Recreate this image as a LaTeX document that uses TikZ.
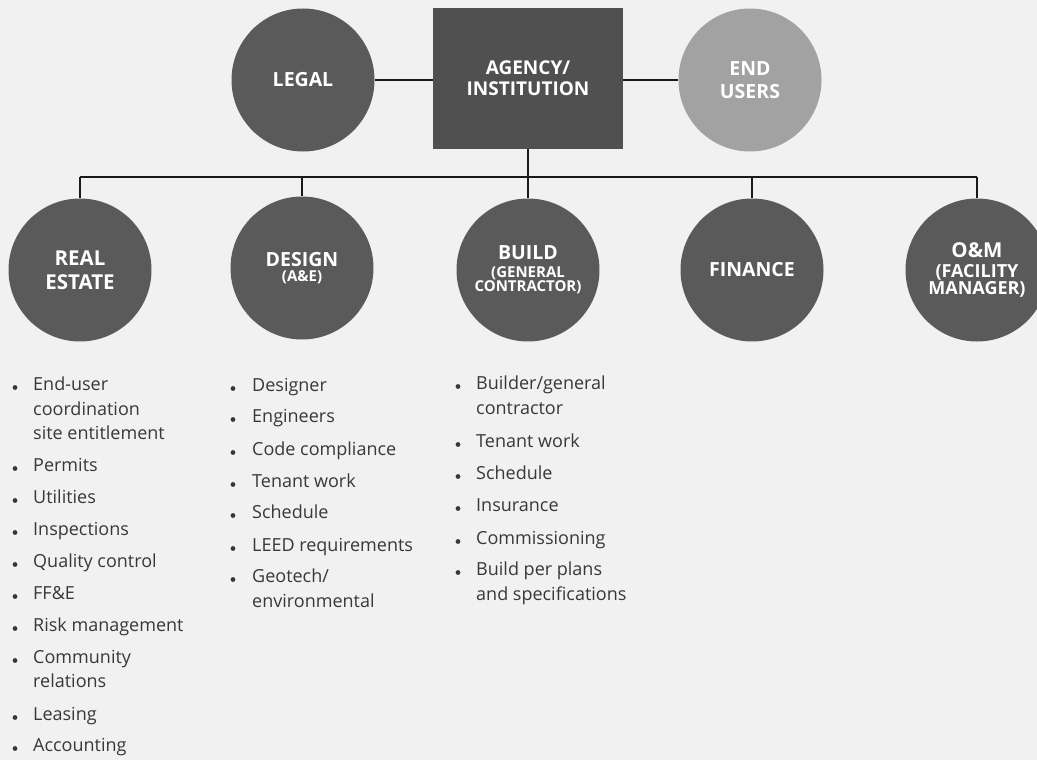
\documentclass[tikz,border=0pt]{standalone}
\usepackage{fontspec}
\setmainfont{Open Sans}
\definecolor{bg}{HTML}{F1F1F1}
\definecolor{dk}{HTML}{5A5A5A}
\definecolor{bx}{HTML}{505050}
\definecolor{lt}{HTML}{A2A2A2}
\definecolor{txt}{HTML}{383838}
\tikzset{
  orgc/.style={circle, fill=dk, minimum size=143pt, inner sep=0pt, text=white, align=center,
    font=\bfseries\fontsize{19.5}{23}\selectfont},
  orgbox/.style={rectangle, fill=bx, minimum width=190pt, minimum height=141pt, inner sep=0pt,
    text=white, align=center, font=\bfseries\fontsize{19}{21}\selectfont},
  conn/.style={draw=black!90, line width=1.3pt},
  item/.style={anchor=mid west, inner sep=0pt, text=txt, yshift=-1.5pt, font=\fontsize{18}{20}\selectfont},
  bulletdot/.style={circle, fill=txt, minimum size=4.8pt, inner sep=0pt, yshift=-1.5pt}
}
\begin{document}
\begin{tikzpicture}[x=1pt,y=-1pt]
\fill[bg] (0,0) rectangle (1037,760);
\useasboundingbox (0,0) rectangle (1037,760);

% top row
\node[orgc] (legal) at (303,80) {LEGAL};
\node[orgbox] (agency) at (528,78.5) {AGENCY/\\INSTITUTION};
\node[orgc, fill=lt] (users) at (750,80) {END\\USERS};

% bottom row
\node[orgc, font=\bfseries\fontsize{20.5}{24}\selectfont] (re) at (80,270) {REAL\\ESTATE};
\node[orgc] (design) at (302,268) {DESIGN\\[-7.5pt]{\fontsize{15}{16}\selectfont (A\&E)}};
\node[orgc] (build) at (528,270) {BUILD\\[-4.7pt]{\fontsize{15}{17}\selectfont (GENERAL}\\[-9pt]{\fontsize{15}{17}\selectfont CONTRACTOR)}};
\node[orgc] (fin) at (752,270) {FINANCE};
\node[orgc, font=\bfseries\fontsize{20.5}{23}\selectfont] (om) at (977,270) {O\&M\\[-3pt]{\fontsize{18}{18}\selectfont (FACILITY}\\[-5.5pt]{\fontsize{18}{18}\selectfont MANAGER)}};

% connectors
\coordinate (busL) at (80,177);
\draw[conn] (legal.east) -- (legal.east -| agency.west);
\draw[conn] (agency.east |- users.west) -- (users.west);
\draw[conn] (agency.south) -- (agency.south |- busL);
\draw[conn] (re.north |- busL) -- (om.north |- busL);
\foreach \n in {re,design,build,fin,om}
  \draw[conn] (\n.north |- busL) -- (\n.north);

% column 1
\foreach \yy/\tt [count=\i] in {386/End-user, 411/coordination, 435/site entitlement,
  467/Permits, 499/Utilities, 531/Inspections, 563/Quality control, 595/FF\&E,
  627/Risk management, 659/Community, 683/relations, 716/Leasing, 747/Accounting}
  \node[item] (a\i) at (33,\yy) {\tt};
\foreach \yy [count=\i] in {386,467,499,531,563,595,627,659,716,747}
  \node[bulletdot] (ab\i) at (15,\yy) {};

% column 2
\foreach \yy/\tt [count=\i] in {387/Designer, 418/Engineers, 451/Code compliance,
  483/Tenant work, 514/Schedule, 547/LEED requirements, 578/{Geotech/}, 603/environmental}
  \node[item] (b\i) at (252,\yy) {\tt};
\foreach \yy [count=\i] in {387,418,451,483,514,547,578}
  \node[bulletdot] (bb\i) at (233,\yy) {};

% column 3
\foreach \yy/\tt [count=\i] in {385/{Builder/general}, 410/contractor, 443/Tenant work,
  475/Schedule, 507/Insurance, 540/Commissioning, 571/Build per plans, 596/and specifications}
  \node[item] (c\i) at (476,\yy) {\tt};
\foreach \yy [count=\i] in {385,443,475,507,540,571}
  \node[bulletdot] (cb\i) at (458,\yy) {};
\end{tikzpicture}
\end{document}
